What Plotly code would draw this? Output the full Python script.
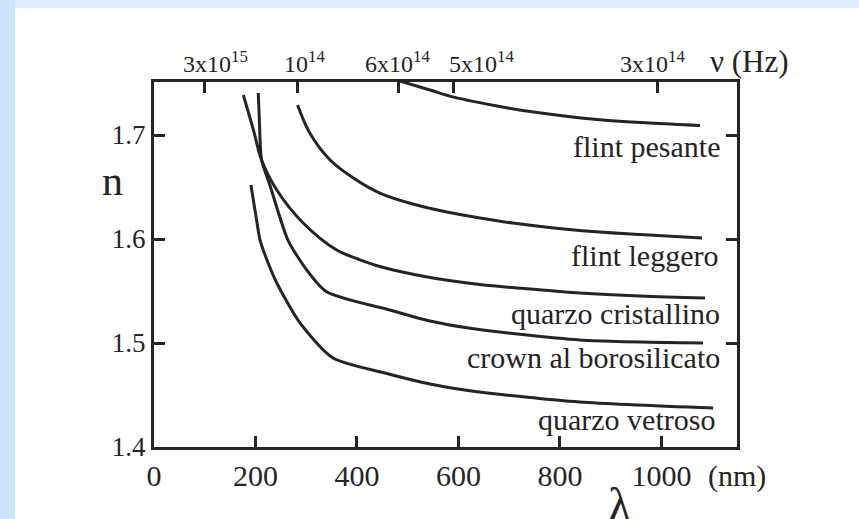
import plotly.graph_objects as go

# ---- data ----
wl_flint_pesante = [465, 544, 591, 676, 741, 873, 977, 1076]
n_flint_pesante = [1.7548, 1.7433, 1.7365, 1.7279, 1.7226, 1.7149, 1.7115, 1.7091]

wl_flint_leggero = [283, 307, 347, 399, 445, 510, 577, 642, 707, 839, 958, 1080]
n_flint_leggero = [1.7288, 1.7019, 1.6760, 1.6567, 1.6442, 1.6337, 1.6260, 1.6202,
                   1.6154, 1.6082, 1.6043, 1.6010]

wl_quarzo_crist = [176, 196, 212, 242, 294, 360, 402, 445, 544, 642, 741, 839, 958, 1086]
n_quarzo_crist = [1.7385, 1.7048, 1.6760, 1.6471, 1.6154, 1.5894, 1.5808, 1.5736,
                  1.5630, 1.5562, 1.5519, 1.5481, 1.5452, 1.5433]

wl_crown = [205.5, 208, 212, 229, 264, 301, 340, 465, 544, 623, 839, 1082]
n_crown = [1.7404, 1.7096, 1.6760, 1.6510, 1.5990, 1.5702, 1.5493, 1.5317, 1.5212,
           1.5141, 1.5029, 1.5000]

wl_quarzo_vetr = [191, 200, 209, 225, 242, 288, 353, 455, 544, 633, 839, 1102]
n_quarzo_vetr = [1.6519, 1.6250, 1.5990, 1.5769, 1.5577, 1.5192, 1.4856, 1.4712,
                 1.4606, 1.4534, 1.4433, 1.4375]

curve_names = ["flint pesante", "flint leggero", "quarzo cristallino",
               "crown al borosilicato", "quarzo vetroso"]
curve_smoothing = [1.0, 1.0, 1.0, 0.7, 0.7]
label_x = [1119, 1116, 1120, 1119, 1109]
label_y = [1.6885, 1.5846, 1.5288, 1.4856, 1.4260]

x_ticks = [0, 200, 400, 600, 800, 1000]
y_ticks = [1.4, 1.5, 1.6, 1.7]

freq_tick_pos = [99, 282, 481, 591, 993]
freq_label_pos = [122, 296, 480, 646, 983]
freq_labels = ["3x10<sup>15</sup>", "10<sup>14</sup>", "6x10<sup>14</sup>",
               "5x10<sup>14</sup>", "3x10<sup>14</sup>"]

X_RANGE = [0, 1149]
Y_RANGE = [1.4, 1.751]

INK = "#242424"
FONT = "Liberation Serif"

fig = go.Figure()
series = [(wl_flint_pesante, n_flint_pesante), (wl_flint_leggero, n_flint_leggero),
          (wl_quarzo_crist, n_quarzo_crist), (wl_crown, n_crown),
          (wl_quarzo_vetr, n_quarzo_vetr)]
for (xs, ys), name, sm in zip(series, curve_names, curve_smoothing):
    fig.add_trace(go.Scatter(x=xs, y=ys, mode="lines", name=name,
                             line=dict(color=INK, width=3, shape="spline", smoothing=sm),
                             showlegend=False, hoverinfo="skip"))

# invisible trace for the top (frequency) axis
fig.add_trace(go.Scatter(x=[X_RANGE[0], X_RANGE[1]], y=[1.45, 1.45], xaxis="x2",
                         mode="lines", line=dict(width=0), showlegend=False,
                         hoverinfo="skip"))

for nm, lx, ly in zip(curve_names, label_x, label_y):
    fig.add_annotation(x=lx, y=ly, xref="x", yref="y", text=nm, showarrow=False,
                       xanchor="right", yanchor="middle",
                       font=dict(family=FONT, size=30, color=INK))

for lx, lt in zip(freq_label_pos, freq_labels):
    fig.add_annotation(x=lx, y=1.0, xref="x", yref="paper", text=lt, showarrow=False,
                       xanchor="center", yanchor="bottom", yshift=3,
                       font=dict(family=FONT, size=24, color=INK))

fig.add_annotation(x=(708 - 154) / 583, y=1.0, xref="paper", yref="paper", text="ν (Hz)",
                   showarrow=False, xanchor="left", yanchor="bottom", yshift=1,
                   font=dict(family=FONT, size=31, color=INK))
fig.add_annotation(x=-0.072, y=0.73, xref="paper", yref="paper", text="n",
                   showarrow=False, xanchor="center", yanchor="middle",
                   font=dict(family=FONT, size=42, color=INK))
fig.add_annotation(x=1.0, y=-0.08, xref="paper", yref="paper", text="(nm)",
                   showarrow=False, xanchor="center", yanchor="middle",
                   font=dict(family=FONT, size=30, color=INK))
fig.add_annotation(x=0.80, y=-0.157, xref="paper", yref="paper", text="λ",
                   showarrow=False, xanchor="center", yanchor="middle",
                   font=dict(family=FONT, size=48, color=INK))

# slide background: light blue frame, lighter top strip, white sheet
fig.add_shape(type="rect", xref="paper", yref="paper",
              x0=(15 - 154) / 583, x1=(870 - 154) / 583,
              y0=(447 - 8) / 365, y1=(447 + 5) / 365,
              fillcolor="#dceefd", line=dict(width=0), layer="below")
fig.add_shape(type="rect", xref="paper", yref="paper",
              x0=(15 - 154) / 583, x1=(870 - 154) / 583,
              y0=(447 - 530) / 365, y1=(447 - 8) / 365,
              fillcolor="white", line=dict(width=0), layer="below")

fig.update_layout(
    width=859, height=519,
    margin=dict(l=154, r=122, t=82, b=72, autoexpand=False),
    paper_bgcolor="#cae3fb", plot_bgcolor="white",
    font=dict(family=FONT, color=INK),
    xaxis=dict(range=X_RANGE, tickvals=x_ticks, ticks="inside", ticklen=11,
               tickwidth=3, tickcolor=INK, showline=True, linewidth=3,
               linecolor=INK, mirror=True, showgrid=False, zeroline=False,
               tickfont=dict(family=FONT, size=30, color=INK)),
    xaxis2=dict(range=X_RANGE, overlaying="x", side="top", tickvals=freq_tick_pos,
                ticks="inside", ticklen=11, tickwidth=3, tickcolor=INK,
                showticklabels=False, showline=False, showgrid=False,
                zeroline=False),
    yaxis=dict(range=Y_RANGE, tickvals=y_ticks, ticktext=["1.4", "1.5", "1.6", "1.7"],
               ticks="inside", ticklen=11, tickwidth=3, tickcolor=INK,
               showline=True, linewidth=3, linecolor=INK, mirror="ticks",
               showgrid=False, zeroline=False,
               tickfont=dict(family=FONT, size=27, color=INK)),
)

fig.write_html("out.html")
